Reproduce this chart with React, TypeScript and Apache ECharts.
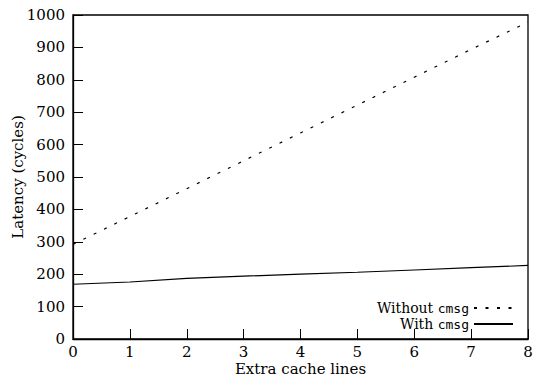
import React, { useEffect, useRef } from "react";
import * as echarts from "echarts";

const xValues = [0, 1, 2, 3, 4, 5, 6, 7, 8];
const withoutCmsg = [292, 378, 464, 550, 636, 722, 808, 894, 978];
const withCmsg = [169, 176, 187, 194, 200, 206, 213, 220, 227];
const seriesNames = ["Without cmsg", "With cmsg"];

const FONT = "'DejaVu Serif', serif";
const FS = 15;

export default function App() {
  const ref = useRef<HTMLDivElement>(null);
  useEffect(() => {
    if (!ref.current) return;
    const chart = echarts.init(ref.current, undefined, { renderer: "svg" });
    chart.setOption({
      animation: false,
      backgroundColor: "#fff",
      textStyle: { fontFamily: FONT, color: "#000" },
      grid: {
        left: 73,
        right: 8,
        top: 15,
        bottom: 39,
        outerBoundsMode: "none",
        containLabel: false,
        show: true,
        borderColor: "#000",
        borderWidth: 1.3,
        backgroundColor: "transparent",
      },
      legend: {
        right: 22,
        bottom: 47,
        orient: "vertical",
        align: "right",
        itemWidth: 39,
        itemHeight: 8,
        itemGap: 2,
        padding: 0,
        itemStyle: { opacity: 0 },
        data: seriesNames.map((n) => ({ name: n })),
        formatter: (name: string) => {
          const pre = name.replace(" cmsg", " ");
          return `{s|${pre}}{m|cmsg}`;
        },
        textStyle: {
          color: "#000",
          fontSize: 14,
          lineHeight: 14,
          rich: {
            s: { fontFamily: FONT, fontSize: 14, color: "#000", lineHeight: 14 },
            m: { fontFamily: "'DejaVu Sans Mono', monospace", fontSize: 13, color: "#000", lineHeight: 14 },
          },
        },
      },
      xAxis: {
        type: "value",
        min: 0,
        max: 8,
        interval: 1,
        name: "Extra cache lines",
        nameLocation: "middle",
        nameMoveOverlap: false,
        nameGap: 22,
        nameTextStyle: { fontFamily: FONT, fontSize: 15, color: "#000", lineHeight: 15 },
        axisLine: { show: true, lineStyle: { color: "#000", width: 1.3 } },
        axisTick: { show: true, inside: true, length: 10, lineStyle: { color: "#000", width: 1 } },
        axisLabel: { margin: 5, fontFamily: FONT, fontSize: FS, color: "#000", lineHeight: 16 },
        splitLine: { show: false },
      },
      yAxis: {
        type: "value",
        min: 0,
        max: 1000,
        interval: 100,
        name: "Latency (cycles)",
        nameLocation: "middle",
        nameMoveOverlap: false,
        nameGap: 48,
        nameTextStyle: { fontFamily: FONT, fontSize: 15, color: "#000" },
        axisLine: { show: true, lineStyle: { color: "#000", width: 1.3 } },
        axisTick: { show: true, inside: true, length: 10, lineStyle: { color: "#000", width: 1 } },
        axisLabel: {
          margin: 8,
          fontFamily: FONT,
          fontSize: FS,
          color: "#000",
          formatter: (v: number) => String(v),
        },
        splitLine: { show: false },
      },
      series: [
        {
          name: seriesNames[0],
          type: "line",
          data: xValues.map((x, i) => [x, withoutCmsg[i]]),
          showSymbol: false,
          symbol: "none",
          lineStyle: { color: "#000", width: 1.2, type: [3, 8.5] },
          itemStyle: { color: "#000" },
        },
        {
          name: seriesNames[1],
          type: "line",
          data: xValues.map((x, i) => [x, withCmsg[i]]),
          showSymbol: false,
          symbol: "none",
          lineStyle: { color: "#000", width: 1.2, type: "solid" },
          itemStyle: { color: "#000" },
        },
      ],
    });
    return () => chart.dispose();
  }, []);
  return <div ref={ref} style={{ width: 536, height: 378, position: "absolute", left: 0, top: 0 }} />;
}
